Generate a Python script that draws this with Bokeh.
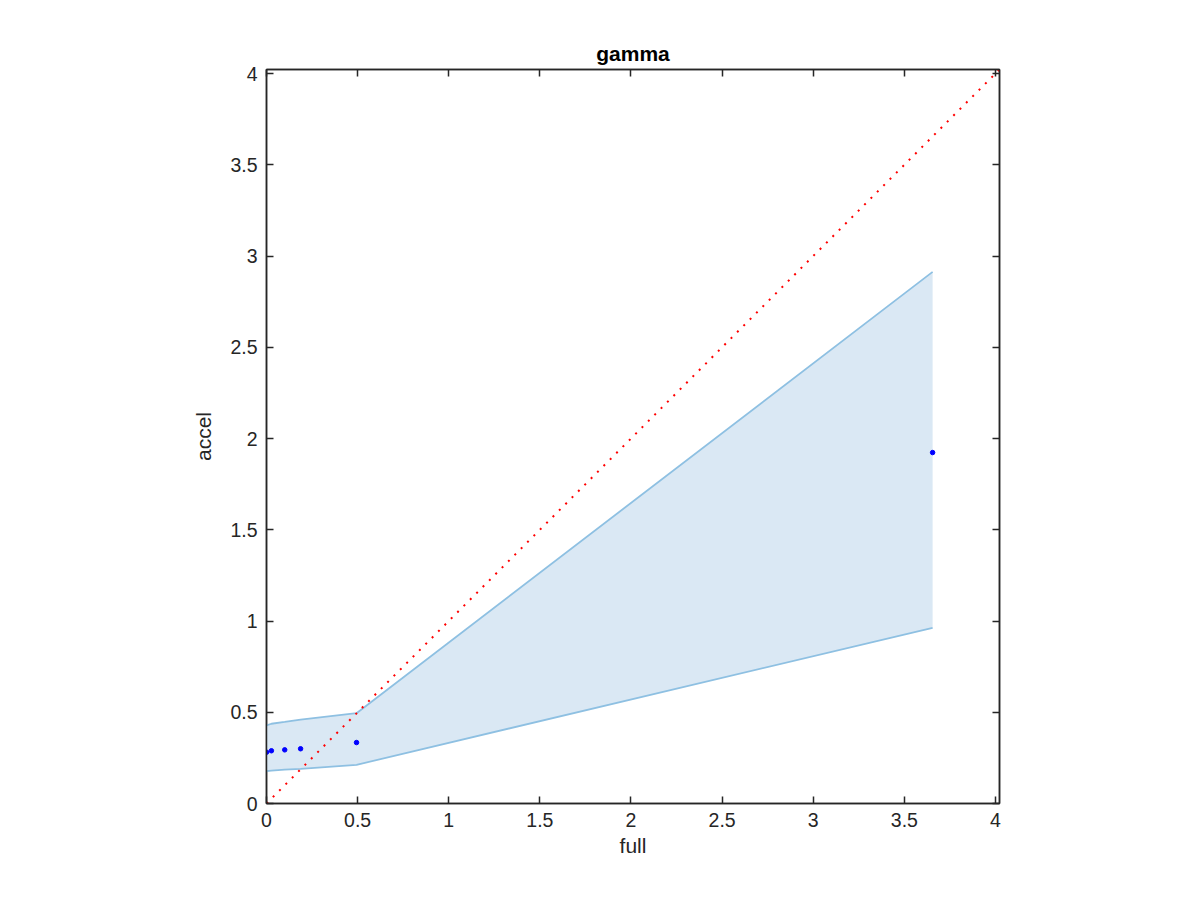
from bokeh.plotting import figure
from bokeh.models import LinearAxis, FixedTicker, Range1d, Title
from bokeh.embed import file_html
from bokeh.resources import INLINE

# data
full_x = [0.0, 0.027, 0.10, 0.187, 0.494, 3.655]
accel_y = [0.281, 0.289, 0.294, 0.300, 0.334, 1.923]
band_upper = [0.428, 0.437, 0.447, 0.460, 0.495, 2.913]
band_lower = [0.177, 0.180, 0.186, 0.190, 0.212, 0.963]
diag = [0.0, 4.022]
ticks = [0, 0.5, 1, 1.5, 2, 2.5, 3, 3.5, 4]
tick_labels = ["0", "0.5", "1", "1.5", "2", "2.5", "3", "3.5", "4"]

FONT = "Liberation Sans"
AX = "#262626"

p = figure(width=1184, height=884, output_backend="svg", toolbar_location=None,
           x_range=Range1d(0, 4.022), y_range=Range1d(0, 4.022),
           min_border_left=266, min_border_right=185, min_border_top=69, min_border_bottom=81)
p.title = None
p.xgrid.visible = False
p.ygrid.visible = False
p.background_fill_color = "white"
p.border_fill_color = "white"
p.outline_line_color = AX
p.outline_line_width = 1.5

p.varea(x=full_x, y1=band_lower, y2=band_upper, fill_color="#dae8f4", fill_alpha=1.0)
p.line(full_x, band_upper, line_color="#8ec0e2", line_width=1.8)
p.line(full_x, band_lower, line_color="#8ec0e2", line_width=1.8)
p.line(diag, diag, line_color="#ff0000", line_width=2, line_dash="2 7")
p.scatter(full_x, accel_y, size=4.5, color="#0000ff")

overrides = {t: l for t, l in zip(ticks, tick_labels)}
blank = {t: "" for t in ticks}

def style(ax, labels=True):
    ax.ticker = FixedTicker(ticks=ticks)
    ax.major_tick_in = 7
    ax.major_tick_out = 0
    ax.minor_tick_in = 0
    ax.minor_tick_out = 0
    ax.axis_line_color = AX
    ax.axis_line_width = 1.5
    ax.major_tick_line_color = AX
    ax.major_tick_line_width = 1.5
    ax.major_label_text_font = FONT
    ax.major_label_text_font_size = "19.5px"
    ax.major_label_text_color = AX
    ax.axis_label_text_font = FONT
    ax.axis_label_text_font_size = "21px"
    ax.axis_label_text_font_style = "normal"
    ax.axis_label_text_color = AX
    ax.major_label_overrides = overrides if labels else blank
    if not labels:
        ax.major_label_standoff = 0

xa = p.xaxis[0]
ya = p.yaxis[0]
style(xa)
style(ya)
xa.axis_label = "full"
ya.axis_label = "accel"
xa.major_label_standoff = 9
ya.major_label_standoff = 9
xa.axis_label_standoff = 4
ya.axis_label_standoff = 12

top = LinearAxis()
right = LinearAxis()
style(top, False)
style(right, False)
p.add_layout(top, "above")
p.add_layout(right, "right")

t = Title(text="gamma", text_font=FONT, text_font_size="21px", text_font_style="bold",
          text_color="black", align="center", offset=0, standoff=10)
p.add_layout(t, "above")

open("out.html", "w").write(file_html(p, INLINE))
